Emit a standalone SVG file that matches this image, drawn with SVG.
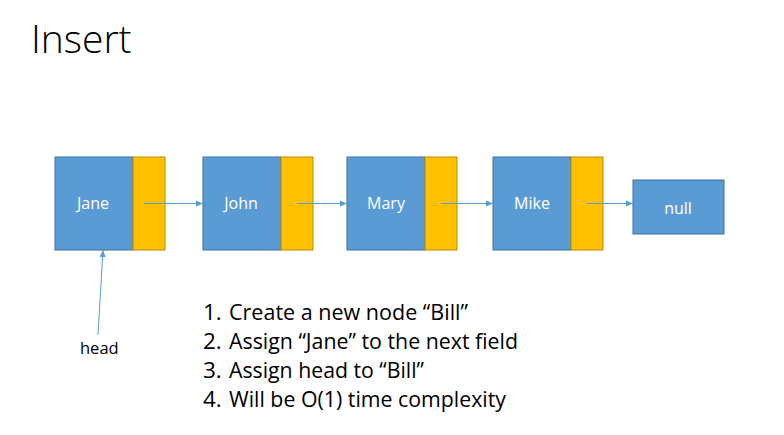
<svg xmlns="http://www.w3.org/2000/svg" width="784" height="435" viewBox="0 0 784 435">
<style>
.b{fill:#5B9BD5;stroke:#41719C;stroke-width:1}
.o{fill:#FFC000;stroke:#BC8C00;stroke-width:1}
.t{font-family:"Open Sans","Liberation Sans",sans-serif;font-size:16px;fill:#fff;text-anchor:middle}
.c{stroke:#5B9BD5;stroke-width:1;fill:none;marker-end:url(#a)}
.l{font-family:"Open Sans","Liberation Sans",sans-serif;font-size:22.5px;fill:#000}
</style>
<defs><marker id="a" markerWidth="8" markerHeight="8" refX="7" refY="4" orient="auto" markerUnits="userSpaceOnUse"><path d="M0,1 L7,4 L0,7 z" fill="#5B9BD5"/></marker></defs>
<rect width="784" height="435" fill="#fff"/>
<text x="31" y="53" font-family="Open Sans,Liberation Sans,sans-serif" font-weight="300" font-size="39" fill="#000">Insert</text>
<g id="jane"><rect class="b" x="55" y="157" width="78" height="93"/><rect class="o" x="133" y="157" width="32" height="93"/><text class="t" x="93" y="209">Jane</text></g>
<g id="john"><rect class="b" x="203" y="157" width="78" height="93"/><rect class="o" x="281" y="157" width="32" height="93"/><text class="t" x="241" y="209">John</text></g>
<g id="mary"><rect class="b" x="347" y="157" width="78" height="93"/><rect class="o" x="425" y="157" width="32" height="93"/><text class="t" x="386" y="209">Mary</text></g>
<g id="mike"><rect class="b" x="493" y="157" width="78" height="93"/><rect class="o" x="571" y="157" width="32" height="93"/><text class="t" x="532" y="209">Mike</text></g>
<g id="null"><rect class="b" x="633" y="180" width="91" height="54"/><text class="t" x="678" y="214">null</text></g>
<g id="head"><text x="80" y="354" font-family="Open Sans,Liberation Sans,sans-serif" font-size="16.5" fill="#000">head</text></g>
<g id="connectors">
<line class="c" x1="144" y1="203.5" x2="203" y2="203.5"/>
<line class="c" x1="297" y1="203.5" x2="347" y2="203.5"/>
<line class="c" x1="441" y1="203.5" x2="493" y2="203.5"/>
<line class="c" x1="587" y1="203.5" x2="633" y2="203.5"/>
<line class="c" x1="98" y1="335" x2="103" y2="250"/>
</g>
<g id="steps">
<text class="l" x="203" y="320">1.</text><text class="l" x="229" y="320" textLength="239" lengthAdjust="spacingAndGlyphs">Create a new node “Bill”</text>
<text class="l" x="203" y="349">2.</text><text class="l" x="229" y="349" textLength="289" lengthAdjust="spacingAndGlyphs">Assign “Jane” to the next field</text>
<text class="l" x="203" y="378">3.</text><text class="l" x="229" y="378" textLength="195" lengthAdjust="spacingAndGlyphs">Assign head to “Bill”</text>
<text class="l" x="203" y="407">4.</text><text class="l" x="229" y="407" textLength="277" lengthAdjust="spacingAndGlyphs">Will be O(1) time complexity</text>
</g>
</svg>
